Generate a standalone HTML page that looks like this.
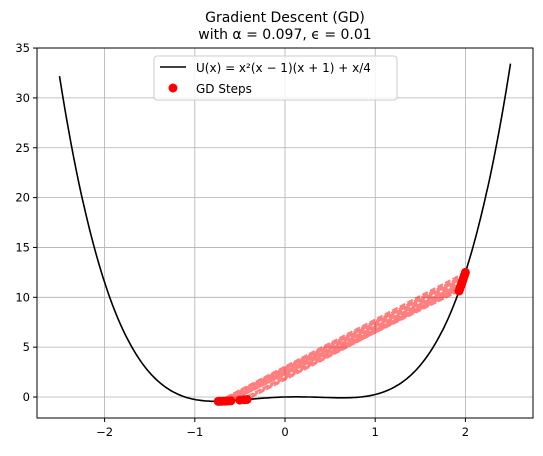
<!DOCTYPE html>
<html><head><meta charset="utf-8"><style>
body{margin:0;background:#fff;font-family:"Liberation Sans",sans-serif}
svg text{font-family:"DejaVu Sans","Liberation Sans",sans-serif}
</style></head><body>
<svg id="c" width="543" height="451"></svg>
<script>
const xTicks=[-2,-1,0,1,2];
const yTicks=[0,5,10,15,20,25,30,35];
const stepX=[2.0,-0.74,1.99,-0.72,1.98,-0.70,1.97,-0.68,1.96,-0.66,1.95,-0.63,1.94,-0.60,1.93,-0.50,1.95,-0.45,1.94,-0.42];
const L=37,R=533,T=48,B=418;
const sx=x=>285+x*90.2, sy=y=>397-y*9.97;
const U=x=>x*x*(x-1)*(x+1)+x/4;
const svg=document.getElementById('c');
const NS='http://www.w3.org/2000/svg';
function el(t,a,p){const e=document.createElementNS(NS,t);for(const k in a)e.setAttribute(k,a[k]);(p||svg).appendChild(e);return e;}
const grid=el('g',{});
xTicks.forEach(v=>{const X=sx(v);
 el('line',{x1:X,x2:X,y1:T,y2:B,stroke:'#b0b0b0','stroke-width':0.8},grid);
 el('line',{x1:X,x2:X,y1:B,y2:B+4,stroke:'#000'});
 const t=el('text',{x:X,y:B+18,'text-anchor':'middle','font-size':11.5});t.textContent=v<0?'\u2212'+(-v):v;
 });
yTicks.forEach(v=>{const Y=sy(v);
 el('line',{x1:L,x2:R,y1:Y,y2:Y,stroke:'#b0b0b0','stroke-width':0.8},grid);
 el('line',{x1:L-4,x2:L,y1:Y,y2:Y,stroke:'#000'});
 const t=el('text',{x:L-7,y:Y+4,'text-anchor':'end','font-size':11.5});t.textContent=v;
 });
let d='';for(let i=0;i<=300;i++){const x=-2.5+5*i/300;d+=(i?'L':'M')+sx(x).toFixed(1)+','+sy(U(x)).toFixed(1);}
const curve=el('path',{d:d,fill:'none',stroke:'#000','stroke-width':1.6});

const sg=el('g',{opacity:0.5});
for(let i=0;i<stepX.length-1;i++){const a=stepX[i],b=stepX[i+1];
 const ln=el('line',{x1:sx(a),y1:sy(U(a)),x2:sx(b),y2:sy(U(b)),stroke:'#ff0000','stroke-width':2,'stroke-dasharray':'6,2.5'},sg);
 }
stepX.forEach(x=>{const c=el('circle',{cx:sx(x),cy:sy(U(x)),r:4.5,fill:'#ff0000'});
 });
const fr=el('rect',{x:L,y:T,width:R-L,height:B-T,fill:'none',stroke:'#000','stroke-width':1});

const t1=el('text',{x:285,y:22,'text-anchor':'middle','font-size':14});t1.textContent='Gradient Descent (GD)';

const t2=el('text',{x:285,y:39,'text-anchor':'middle','font-size':14});t2.textContent='with \u03b1 = 0.097, \u03f5 = 0.01';

const lg=el('g',{});
el('rect',{x:154,y:56,width:243,height:44,rx:3,fill:'#fff','fill-opacity':0.8,stroke:'#ccc'},lg);
el('line',{x1:160,x2:186,y1:67,y2:67,stroke:'#000','stroke-width':1.6},lg);
const l1=el('text',{x:196,y:72,'font-size':12},lg);l1.textContent='U(x) = x\u00b2(x \u2212 1)(x + 1) + x/4';

el('circle',{cx:173,cy:88,r:4.5,fill:'#ff0000'},lg);
const l2=el('text',{x:196,y:93,'font-size':12},lg);l2.textContent='GD Steps';

</script>
</body></html>
